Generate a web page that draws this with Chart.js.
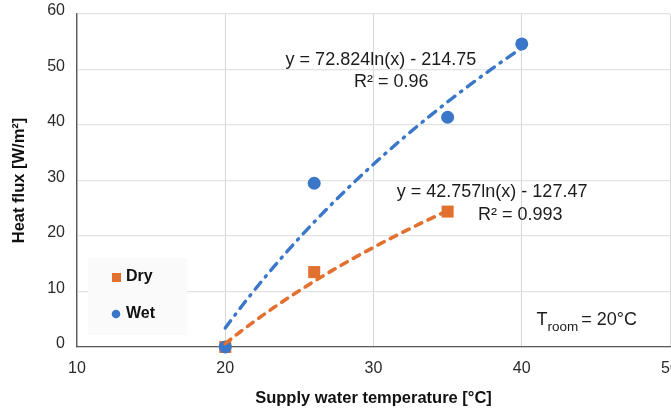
<!DOCTYPE html>
<html>
<head>
<meta charset="utf-8">
<script src="https://cdn.jsdelivr.net/npm/chart.js@4.4.0/dist/chart.umd.min.js"></script>
<style>
  html, body { margin: 0; padding: 0; background: #fff; }
  #wrap { width: 671px; height: 409px; }
</style>
</head>
<body>
<div id="wrap"><canvas id="heatChart" width="671" height="409"></canvas></div>
<script>
const xTicks = [10, 20, 30, 40, 50];
const yTicks = [0, 10, 20, 30, 40, 50, 60];

const seriesNames = ['Dry', 'Wet'];

const dryTemp = [20, 26, 35];
const dryFlux = [0, 13.5, 24.4];
const wetTemp = [20, 26, 35, 40];
const wetFlux = [0, 29.5, 41.4, 54.6];

// logarithmic fits, y = a*ln(x) + b
const dryFit = [42.757, -127.47];
const wetFit = [72.824, -214.75];
const dryR2 = 0.993;
const wetR2 = 0.96;

const roomTemp = 20;

const BLUE = '#3a77c9';
const ORANGE = '#e2702f';
const FONT = '"Liberation Sans", Arial, Helvetica, sans-serif';

function toPoints(xs, ys) {
    return xs.map((x, i) => ({ x: x, y: ys[i] }));
}

function fitLine(fit, xs) {
    const pts = [];
    const x0 = Math.min(...xs), x1 = Math.max(...xs);
    for (let x = x0; x <= x1 + 1e-9; x += 0.25) {
        pts.push({ x: x, y: fit[0] * Math.log(x) + fit[1] });
    }
    return pts;
}

function fitLabel(fit) {
    return 'y = ' + fit[0] + 'ln(x) ' + (fit[1] < 0 ? '- ' : '+ ') + Math.abs(fit[1]);
}

// text notes and the boxed legend, drawn on the plot
const notes = {
    id: 'notes',
    beforeDatasetsDraw(chart) {
        const { ctx, chartArea } = chart;
        const l = chartArea.left, b = chartArea.bottom;
        ctx.save();
        ctx.fillStyle = '#fafafa';
        ctx.fillRect(l + 11, b - 89, 99, 77);

        ctx.font = 'bold 16px ' + FONT;
        ctx.textBaseline = 'middle';
        ctx.textAlign = 'left';
        ctx.fillStyle = ORANGE;
        ctx.fillRect(l + 35, b - 74, 9, 9);
        ctx.fillStyle = BLUE;
        ctx.beginPath();
        ctx.arc(l + 39, b - 33, 4.3, 0, Math.PI * 2);
        ctx.fill();
        ctx.fillStyle = '#111';
        ctx.fillText(chart.data.datasets[0].label, l + 49, b - 70);
        ctx.fillText(chart.data.datasets[1].label, l + 49, b - 33);
        ctx.restore();
    },
    afterDatasetsDraw(chart) {
        const { ctx } = chart;
        const xs = chart.scales.x, ys = chart.scales.y;
        const at = (x, y) => [xs.getPixelForValue(x), ys.getPixelForValue(y)];
        ctx.save();
        ctx.fillStyle = '#1c1c1c';
        ctx.font = '18px ' + FONT;
        ctx.textAlign = 'center';
        ctx.textBaseline = 'middle';
        let p = at(30.5, 51.7);
        ctx.fillText(fitLabel(wetFit), p[0], p[1]);
        p = at(31.2, 47.7);
        ctx.fillText('R\u00b2 = ' + wetR2, p[0], p[1]);
        p = at(38.0, 27.9);
        ctx.fillText(fitLabel(dryFit), p[0], p[1]);
        p = at(39.9, 23.8);
        ctx.fillText('R\u00b2 = ' + dryR2, p[0], p[1]);

        // T_room with subscript
        p = at(41.0, 4.9);
        ctx.textAlign = 'left';
        let x = p[0];
        ctx.fillText('T', x, p[1]);
        x += ctx.measureText('T').width;
        ctx.font = '13.5px ' + FONT;
        ctx.fillText('room', x, p[1] + 7);
        x += ctx.measureText('room').width + 3;
        ctx.font = '18px ' + FONT;
        ctx.fillText('= ' + roomTemp + '\u00b0C', x, p[1]);
        ctx.restore();
    }
};

const ctx = document.getElementById('heatChart');

new Chart(ctx, {
    type: 'scatter',
    data: {
        datasets: [{
            label: seriesNames[0],
            data: toPoints(dryTemp, dryFlux),
            pointStyle: 'rect',
            pointRadius: 8.5,
            pointHoverRadius: 8.5,
            backgroundColor: ORANGE,
            borderColor: ORANGE,
            borderWidth: 0,
            clip: false,
            order: 3
        }, {
            label: seriesNames[1],
            data: toPoints(wetTemp, wetFlux),
            pointStyle: 'circle',
            pointRadius: 6.5,
            pointHoverRadius: 6.5,
            backgroundColor: BLUE,
            borderColor: BLUE,
            borderWidth: 0,
            clip: false,
            order: 2
        }, {
            label: 'Dry fit',
            data: fitLine(dryFit, dryTemp),
            showLine: true,
            pointRadius: 0,
            borderColor: ORANGE,
            borderWidth: 3.6,
            borderDash: [7, 7],
            borderCapStyle: 'round',
            tension: 0,
            clip: false,
            order: 1
        }, {
            label: 'Wet fit',
            data: fitLine(wetFit, wetTemp),
            showLine: true,
            pointRadius: 0,
            borderColor: BLUE,
            borderWidth: 3.4,
            borderDash: [9, 7, 1.5, 7],
            borderCapStyle: 'round',
            tension: 0,
            clip: false,
            order: 0
        }]
    },
    options: {
        responsive: false,
        animation: false,
        layout: {
            autoPadding: false,
            padding: { top: 14, right: 1, left: 0, bottom: 0 }
        },
        scales: {
            x: {
                type: 'linear',
                min: 10,
                max: 50,
                afterBuildTicks: s => { s.ticks = xTicks.map(v => ({ value: v })); },
                afterFit: s => { s.height = 62; s.paddingLeft = 0; s.paddingRight = 0; },
                grid: { color: '#d6d6de', lineWidth: 1, drawTicks: false },
                border: { color: '#5a5a5a', width: 1.3 },
                ticks: {
                    padding: 12,
                    color: '#2a2a2a',
                    font: { family: FONT, size: 16 }
                },
                title: {
                    display: true,
                    text: 'Supply water temperature [\u00b0C]',
                    color: '#111',
                    font: { family: FONT, size: 16.5, weight: 'bold' },
                    padding: { top: 4, bottom: 1 }
                }
            },
            y: {
                min: 0,
                max: 60,
                afterBuildTicks: s => { s.ticks = yTicks.map(v => ({ value: v })); },
                afterFit: s => { s.width = 77; s.paddingTop = 0; s.paddingBottom = 0; },
                grid: { color: '#e3e3e3', lineWidth: 1.3, drawTicks: false },
                border: { color: '#5a5a5a', width: 1.3 },
                ticks: {
                    padding: 12,
                    labelOffset: -3,
                    color: '#2a2a2a',
                    font: { family: FONT, size: 16 }
                },
                title: {
                    display: true,
                    text: 'Heat flux [W/m\u00b2]',
                    color: '#111',
                    font: { family: FONT, size: 16.5, weight: 'bold' },
                    padding: { top: 10, bottom: 4 }
                }
            }
        },
        plugins: {
            legend: { display: false },
            tooltip: { enabled: false }
        }
    },
    plugins: [notes]
});
</script>
</body>
</html>
